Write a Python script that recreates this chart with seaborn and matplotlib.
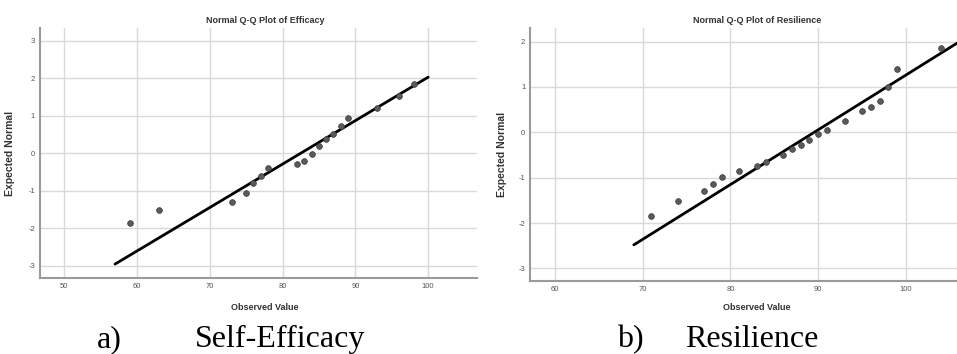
import matplotlib
matplotlib.use("Agg")
import matplotlib.pyplot as plt
import seaborn as sns
import pandas as pd

# Self-Efficacy Q-Q data
eff_obs = [59, 63, 73, 75, 76, 77, 78, 82, 83, 84, 85, 86, 87, 88, 89, 93, 96, 98]
eff_exp = [-1.85, -1.52, -1.30, -1.05, -0.80, -0.60, -0.40, -0.28, -0.20, -0.03,
           0.20, 0.38, 0.52, 0.72, 0.93, 1.22, 1.52, 1.85]
eff_line_x = [57, 100]
eff_line_y = [-2.95, 2.03]

# Resilience Q-Q data
res_obs = [71, 74, 77, 78, 79, 81, 83, 84, 86, 87, 88, 89, 90, 91, 93, 95, 96, 97, 98, 99, 104]
res_exp = [-1.85, -1.52, -1.30, -1.13, -0.98, -0.86, -0.75, -0.65, -0.50, -0.37, -0.28,
           -0.16, -0.03, 0.05, 0.25, 0.47, 0.55, 0.70, 1.00, 1.40, 1.86]
res_line_x = [69, 107]
res_line_y = [-2.48, 2.11]

eff_xticks = [50, 60, 70, 80, 90, 100]
eff_yticks = [-3, -2, -1, 0, 1, 2, 3]
res_xticks = [60, 70, 80, 90, 100]
res_yticks = [-3, -2, -1, 0, 1, 2]

sns.set_theme(style="white")
plt.rcParams['font.family'] = ['Liberation Sans', 'DejaVu Sans']
plt.rcParams['axes.unicode_minus'] = False

fig = plt.figure(figsize=(9.57, 3.54), dpi=100)

panels = [
    dict(pos=[0.0418, 0.2147, 0.4566, 0.7063], obs=eff_obs, exp=eff_exp,
         lx=eff_line_x, ly=eff_line_y, xlim=(46.7, 106.7), ylim=(-3.32, 3.34),
         xt=eff_xticks, yt=eff_yticks, title="Normal Q-Q Plot of Efficacy",
         tx=0.277, ylx=-0.057, cap_letter="a)", cap_word="Self-Efficacy",
         capx=(0.101, 0.2035)),
    dict(pos=[0.554, 0.207, 0.446, 0.714], obs=res_obs, exp=res_exp,
         lx=res_line_x, ly=res_line_y, xlim=(57.2, 105.8), ylim=(-3.27, 2.30),
         xt=res_xticks, yt=res_yticks, title="Normal Q-Q Plot of Resilience",
         tx=0.791, ylx=-0.054, cap_letter="b)", cap_word="Resilience",
         capx=(0.645, 0.7155)),
]

for p in panels:
    ax = fig.add_axes(p["pos"])
    df = pd.DataFrame({"Observed": p["obs"], "Expected": p["exp"]})
    ldf = pd.DataFrame({"x": p["lx"], "y": p["ly"]})
    ax.set_xlim(*p["xlim"])
    ax.set_ylim(*p["ylim"])
    ax.set_xticks(p["xt"])
    ax.set_yticks(p["yt"])
    ax.grid(True, color="#d9d9d9", linewidth=1.0)
    ax.set_axisbelow(True)
    sns.lineplot(data=ldf, x="x", y="y", ax=ax, color="black", linewidth=2.0,
                 zorder=3)
    sns.scatterplot(data=df, x="Observed", y="Expected", ax=ax, color="#5a5a5a",
                    s=17, edgecolor="#3a3a3a", linewidth=0.5, zorder=4)
    for s in ["top", "right"]:
        ax.spines[s].set_visible(False)
    for s in ["left", "bottom"]:
        ax.spines[s].set_color("#9a9a9a")
        ax.spines[s].set_linewidth(1.5)
    ax.tick_params(axis="both", length=0, labelsize=5.5, labelcolor="#555555", pad=3.5)
    ax.set_xlabel("")
    ax.set_ylabel("Expected Normal", fontsize=7.5, fontweight="bold", color="#333333")
    ax.yaxis.set_label_coords(p["ylx"], 0.5)
    fig.text(p["tx"], 0.9435, p["title"], ha="center", va="center", fontsize=6.5,
             fontweight="bold", color="#333333")
    fig.text(p["tx"], 0.130, "Observed Value", ha="center", va="center", fontsize=6.5,
             fontweight="bold", color="#333333")
    fig.text(p["capx"][0], 0.02, p["cap_letter"], ha="left", va="baseline",
             fontsize=23, family="Liberation Serif", color="black")
    fig.text(p["capx"][1], 0.02, p["cap_word"], ha="left", va="baseline",
             fontsize=23, family="Liberation Serif", color="black")

fig.savefig("out.png", dpi=100)
